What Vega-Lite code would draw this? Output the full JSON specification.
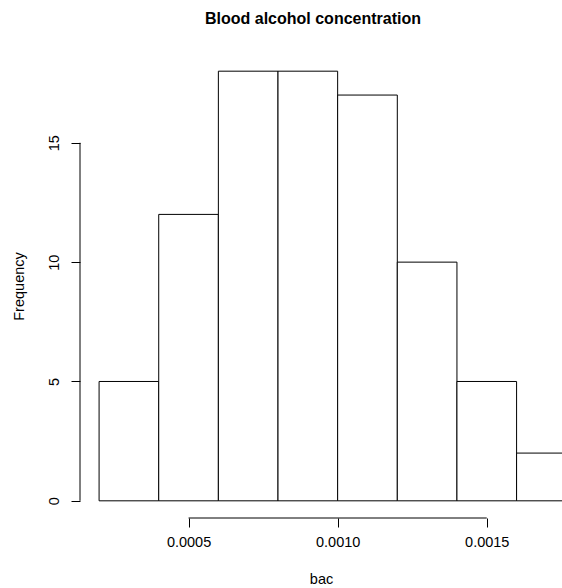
{
  "$schema": "https://vega.github.io/schema/vega-lite/v6.json",
  "autosize": "none",
  "width": 482,
  "height": 464,
  "padding": {"left": 80, "top": 54, "right": 0, "bottom": 70},
  "background": "white",
  "config": {
    "view": {"stroke": null},
    "font": "Liberation Sans",
    "axis": {"grid": false, "domain": false, "tickColor": "black", "labelColor": "black", "titleColor": "black", "labelFont": "Liberation Sans", "titleFont": "Liberation Sans", "titleFontWeight": "normal", "labelFontSize": 14.5, "titleFontSize": 14.5, "tickSize": 9, "tickWidth": 1}
  },
  "title": {"text": "Blood alcohol concentration", "font": "Liberation Sans", "fontSize": 16, "fontWeight": "bold", "color": "black", "anchor": "middle", "dx": -8, "offset": 27},
  "data": {"values": [
    {"start": 0.0002, "end": 0.0004, "count": 5},
    {"start": 0.0004, "end": 0.0006, "count": 12},
    {"start": 0.0006, "end": 0.0008, "count": 18},
    {"start": 0.0008, "end": 0.0010, "count": 18},
    {"start": 0.0010, "end": 0.0012, "count": 17},
    {"start": 0.0012, "end": 0.0014, "count": 10},
    {"start": 0.0014, "end": 0.0016, "count": 5},
    {"start": 0.0016, "end": 0.0018, "count": 2}
  ]},
  "layer": [
    {
      "mark": {"type": "bar", "fill": "white", "stroke": "black", "strokeWidth": 1, "clip": true},
      "encoding": {
        "x": {"field": "start", "type": "quantitative", "scale": {"domain": [0.000136, 0.0017523], "nice": false, "zero": false},
              "axis": {"title": "bac", "values": [0.0005, 0.001, 0.0015], "format": ".4f", "labelPadding": 8, "titlePadding": 24}},
        "x2": {"field": "end"},
        "y": {"field": "count", "type": "quantitative", "scale": {"domain": [-0.72, 18.72], "nice": false, "zero": false},
              "axis": {"title": "Frequency", "values": [0, 5, 10, 15], "labelAngle": -90, "labelAlign": "center", "labelBaseline": "bottom", "labelPadding": 10, "titlePadding": 20}},
        "y2": {"datum": 0}
      }
    },
    {
      "data": {"values": [{}]},
      "mark": {"type": "rule", "color": "black", "strokeWidth": 1},
      "encoding": {
        "x": {"datum": 0.0005, "type": "quantitative"},
        "x2": {"datum": 0.0015},
        "y": {"datum": -0.72, "type": "quantitative"}
      }
    },
    {
      "data": {"values": [{}]},
      "mark": {"type": "rule", "color": "black", "strokeWidth": 1},
      "encoding": {
        "x": {"datum": 0.000136, "type": "quantitative"},
        "y": {"datum": 0, "type": "quantitative"},
        "y2": {"datum": 15}
      }
    }
  ]
}
